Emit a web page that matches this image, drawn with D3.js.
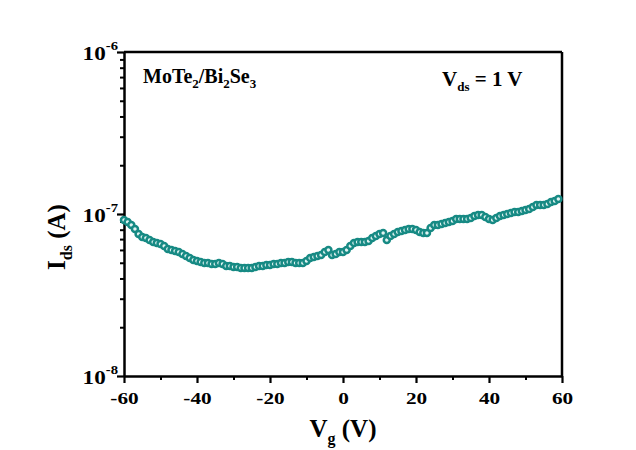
<!DOCTYPE html>
<html><head><meta charset="utf-8">
<script src="https://cdn.jsdelivr.net/npm/d3@7"></script>
<style>
html,body{margin:0;padding:0;background:#fff;}
svg{display:block;}
text{font-family:"Liberation Serif","Times New Roman",serif;font-weight:bold;fill:#000;}
</style></head>
<body>
<svg id="chart" width="636" height="450"></svg>
<script>
// Gate voltage (V)
const gateVoltage = [-60,-59,-58,-57,-56,-55,-54,-53,-52,-51,-50,-49,-48,-47,-46,-45,-44,-43,-42,-41,
-40,-39,-38,-37,-36,-35,-34,-33,-32,-31,-30,-29,-28,-27,-26,-25,-24,-23,-22,-21,
-20,-19,-18,-17,-16,-15,-14,-13,-12,-11,-10,-9,-8,-7,-6,-5,-4,-3,-2,-1,
0,1,2,3,4,5,6,7,8,9,10,11,12,13,14,15,16,17,18,19,
20,21,22,23,24,25,26,27,28,29,30,31,32,33,34,35,36,37,38,39,
40,41,42,43,44,45,46,47,48,49,50,51,52,53,54,55,56,57,58,59];
// Drain current (units of 1e-8 A)
const drainCurrent = [9.18,8.93,8.55,8.08,7.52,7.21,7.11,6.91,6.72,6.62,6.53,6.35,6.08,5.99,5.91,5.83,5.66,5.51,5.35,5.20,
5.13,5.05,4.98,4.98,4.91,4.91,4.98,4.91,4.78,4.78,4.71,4.71,4.64,4.64,4.64,4.64,4.71,4.78,4.78,4.84,
4.84,4.91,4.91,4.98,4.98,5.05,5.05,4.98,4.98,4.98,5.13,5.35,5.43,5.51,5.58,5.83,5.99,5.58,5.66,5.83,
5.83,5.99,6.35,6.62,6.72,6.72,6.72,6.81,7.11,7.31,7.52,7.63,6.91,7.31,7.52,7.74,7.86,7.97,8.08,8.08,
7.97,7.74,7.63,7.63,8.20,8.55,8.55,8.68,8.80,8.93,9.05,9.31,9.31,9.31,9.31,9.45,9.72,9.86,9.86,9.58,
9.31,9.18,9.45,9.72,9.86,10.0,10.14,10.29,10.29,10.43,10.59,10.74,11.05,11.36,11.36,11.36,11.53,11.86,12.03,12.38];
const xMajorTicks = [-60,-40,-20,0,20,40,60];
const xMinorTicks = [-50,-30,-10,10,30,50];
const yMajorTicks = [1e-8,1e-7,1e-6];
const yMajorLabels = ["-8","-7","-6"];
const yMinorTicks = [2e-8,3e-8,4e-8,5e-8,6e-8,7e-8,8e-8,9e-8,2e-7,3e-7,4e-7,5e-7,6e-7,7e-7,8e-7,9e-7];

const data = gateVoltage.map((v,i)=>({v, i: drainCurrent[i]*1e-8}));

const svg = d3.select("#chart");
const L=124, R=562, T=52, B=376;
const x = d3.scaleLinear().domain([-60,60]).range([L,R]);
const y = d3.scaleLog().domain([1e-8,1e-6]).range([B,T]);

// frame top/right
svg.append("line").attr("x1",L).attr("x2",R).attr("y1",T).attr("y2",T).attr("stroke","#000").attr("stroke-width",2.5);
svg.append("line").attr("x1",R).attr("x2",R).attr("y1",T).attr("y2",B).attr("stroke","#000").attr("stroke-width",2.5);

// x minor
const gxm = svg.append("g").attr("transform",`translate(0,${B})`)
  .call(d3.axisBottom(x).tickValues(xMinorTicks).tickSize(4).tickSizeOuter(0).tickFormat(""));
gxm.select(".domain").remove();
gxm.selectAll("line").attr("stroke-width",2);
// x major
const gx = svg.append("g").attr("transform",`translate(0,${B})`)
  .call(d3.axisBottom(x).tickValues(xMajorTicks).tickSize(7).tickSizeOuter(0).tickFormat(""));
gx.select(".domain").attr("stroke-width",2.5);
gx.selectAll(".tick line").attr("stroke-width",2.2);
gx.selectAll(".tick").append("text")
  .attr("text-anchor","middle")
  .attr("transform","translate(0,28) scale(1.25,1)")
  .attr("font-size",17)
  .text(d=>d);

// y minor
const gym = svg.append("g").attr("transform",`translate(${L},0)`)
  .call(d3.axisLeft(y).tickValues(yMinorTicks).tickSize(4).tickSizeOuter(0).tickFormat(""));
gym.select(".domain").remove();
gym.selectAll("line").attr("stroke-width",2);
// y major
const gy = svg.append("g").attr("transform",`translate(${L},0)`)
  .call(d3.axisLeft(y).tickValues(yMajorTicks).tickSize(7).tickSizeOuter(0).tickFormat(""));
gy.select(".domain").attr("stroke-width",2.5);
gy.selectAll(".tick line").attr("stroke-width",2.2);
gy.selectAll(".tick").each(function(d,i){
  const t = d3.select(this).append("text")
    .attr("text-anchor","end")
    .attr("transform","translate(-6,7) scale(1.22,1)");
  t.append("tspan").attr("font-size",19).text("10");
  t.append("tspan").attr("font-size",12).attr("dy",-10).text(yMajorLabels[i]);
});

// data markers
svg.append("g").selectAll("circle").data(data).join("circle")
  .attr("cx",d=>x(d.v)).attr("cy",d=>y(d.i)).attr("r",3)
  .attr("fill","#e2f4f2").attr("stroke","#178a84").attr("stroke-width",2.5);

// annotations
const a1 = svg.append("text").attr("x",143).attr("y",83).attr("font-size",20);
a1.append("tspan").text("MoTe");
a1.append("tspan").attr("font-size",13).attr("dy",5).text("2");
a1.append("tspan").attr("dy",-5).text("/Bi");
a1.append("tspan").attr("font-size",13).attr("dy",5).text("2");
a1.append("tspan").attr("dy",-5).text("Se");
a1.append("tspan").attr("font-size",13).attr("dy",5).text("3");

const a2 = svg.append("text").attr("x",442).attr("y",86).attr("font-size",21);
a2.append("tspan").text("V");
a2.append("tspan").attr("font-size",13).attr("dy",5).text("ds");
a2.append("tspan").attr("dy",-5).text(" = 1 V");

// axis titles
const xt = svg.append("text").attr("x",(L+R)/2).attr("y",437).attr("text-anchor","middle").attr("font-size",25);
xt.append("tspan").text("V");
xt.append("tspan").attr("font-size",16).attr("dy",7).text("g");
xt.append("tspan").attr("dy",-7).text(" (V)");

const yt = svg.append("text").attr("transform","translate(65,237) rotate(-90)").attr("text-anchor","middle").attr("font-size",25);
yt.append("tspan").text("I");
yt.append("tspan").attr("font-size",16).attr("dy",7).text("ds");
yt.append("tspan").attr("dy",-7).text(" (A)");
</script>
</body></html>
